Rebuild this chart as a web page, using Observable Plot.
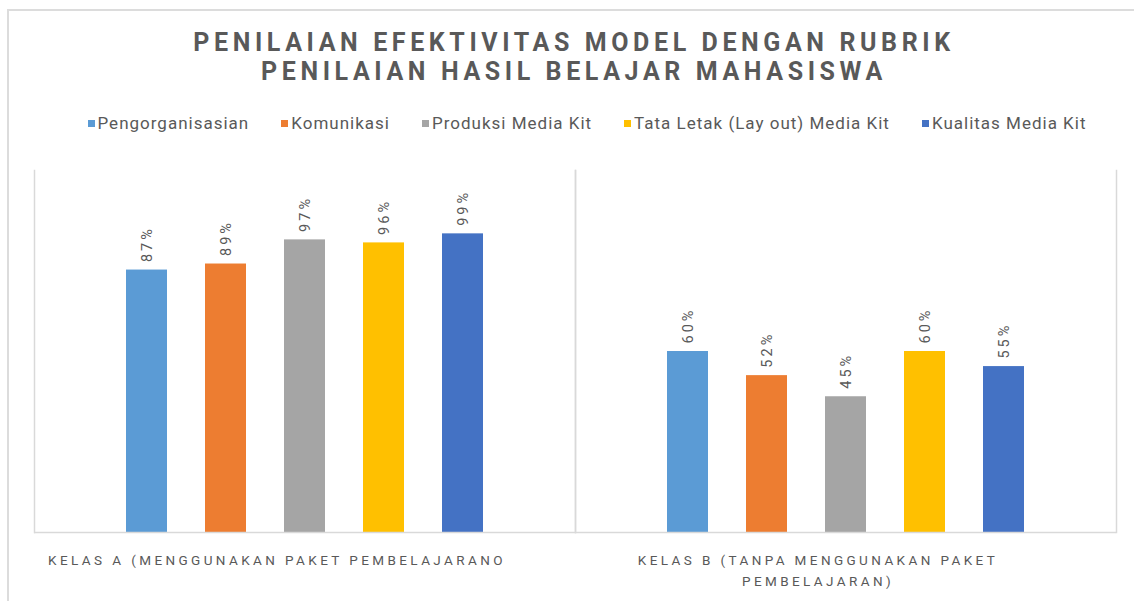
<!DOCTYPE html>
<html>
<head>
<meta charset="utf-8">
<script src="https://cdn.jsdelivr.net/npm/d3@7"></script>
<script src="https://cdn.jsdelivr.net/npm/@observablehq/plot@0.6"></script>
<style>
  html, body { margin: 0; padding: 0; background: #fff; }
  #wrap { position: relative; width: 1134px; height: 601px; overflow: hidden; background: #fff; }
  #border { position: absolute; left: 7px; top: 9px; right: 0; bottom: -5px; border-top: 2px solid #dcdcdc; border-left: 2px solid #dcdcdc; }
  #title { position: absolute; left: 0; top: 28px; width: 1148px; text-align: center; font-family: "Roboto", sans-serif; font-weight: bold; font-size: 25px; line-height: 29px; letter-spacing: 4.6px; color: #595959; }
  #legend { position: absolute; left: 20px; top: 113px; width: 1134px; display: flex; justify-content: center; gap: 32px; font-family: "Roboto", sans-serif; font-size: 17px; letter-spacing: 1px; color: #595959; }
  #legend .item { display: flex; align-items: center; gap: 3px; }
  #legend .sw { width: 7px; height: 7px; display: inline-block; }
  #chart { position: absolute; left: 0; top: 150px; }
  #chart svg text { font-family: "Roboto", sans-serif; }
  #chart [aria-label="fx-axis tick label"] text { letter-spacing: 3.4px; }
  #chart [aria-label="text"] text { letter-spacing: 3px; }
</style>
</head>
<body>
<div id="wrap">
  <div id="border"></div>
  <div id="title">PENILAIAN EFEKTIVITAS MODEL DENGAN RUBRIK<br>PENILAIAN HASIL BELAJAR MAHASISWA</div>
  <div id="legend"></div>
  <div id="chart"></div>
</div>
<script>
const groups = ["Kelas A", "Kelas B"];
const groupLabels = ["KELAS A (MENGGUNAKAN PAKET PEMBELAJARANO", "KELAS B (TANPA MENGGUNAKAN PAKET\nPEMBELAJARAN)"];
const series = ["Pengorganisasian", "Komunikasi", "Produksi Media Kit", "Tata Letak (Lay out) Media Kit", "Kualitas Media Kit"];
const colors = ["#5B9BD5", "#ED7D31", "#A5A5A5", "#FFC000", "#4472C4"];
const kelasA = [0.87, 0.89, 0.97, 0.96, 0.99];
const kelasB = [0.60, 0.52, 0.45, 0.60, 0.55];

const data = [];
series.forEach((s, i) => {
  data.push({group: groups[0], series: s, value: kelasA[i]});
});
series.forEach((s, i) => {
  data.push({group: groups[1], series: s, value: kelasB[i]});
});

const legend = document.getElementById("legend");
series.forEach((s, i) => {
  const it = document.createElement("div");
  it.className = "item";
  const sw = document.createElement("span");
  sw.className = "sw";
  sw.style.background = colors[i];
  const tx = document.createElement("span");
  tx.textContent = s;
  it.appendChild(sw);
  it.appendChild(tx);
  legend.appendChild(it);
});

const chart = Plot.plot({
  width: 1134,
  height: 451,
  marginTop: 20,
  marginBottom: 69,
  marginLeft: 33,
  marginRight: 18,
  style: {background: "transparent", color: "#595959"},
  fx: {domain: groups, padding: 0, label: null},
  x: {domain: series, paddingInner: 0.48, paddingOuter: 1.15, axis: null},
  y: {domain: [0, 1.2], axis: null},
  color: {domain: series, range: colors},
  marks: [
    Plot.frame({anchor: "left", stroke: "#d9d9d9", strokeWidth: 1.5}),
    Plot.frame({anchor: "right", stroke: "#d9d9d9", strokeWidth: 1.5}),
    Plot.barY(data, {fx: "group", x: "series", y: "value", fill: "series"}),
    Plot.ruleY([0], {stroke: "#d9d9d9", strokeWidth: 1.5}),
    Plot.text(data, {fx: "group", x: "series", y: "value", text: d => Math.round(d.value * 100) + "%", rotate: -90, textAnchor: "start", dy: -8, fill: "#595959", fontSize: 14.5}),
    Plot.axisFx({anchor: "bottom", tickSize: 0, tickPadding: 17, fontSize: 13.5, lineHeight: 1.6, dx: -28, fill: "#595959", tickFormat: g => groupLabels[groups.indexOf(g)], label: null})
  ]
});
document.getElementById("chart").appendChild(chart);
</script>
</body>
</html>
